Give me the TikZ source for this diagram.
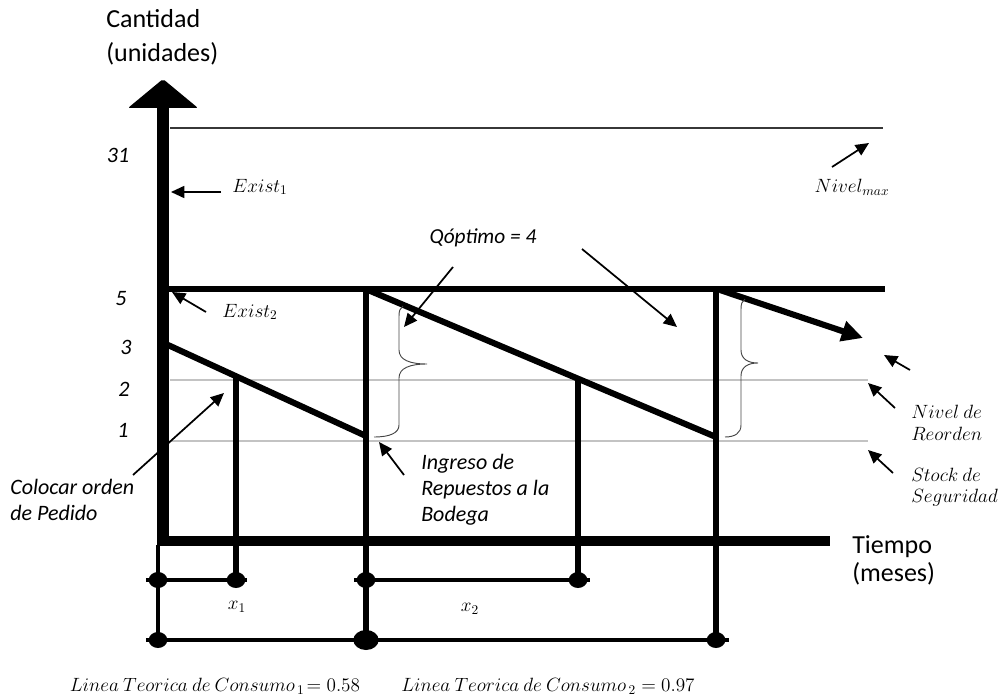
\documentclass[tikz,border=0pt]{standalone}
\usepackage{fontspec}
\setmainfont{Carlito}
\usetikzlibrary{arrows.meta,shapes.geometric}
\begin{document}
\begin{tikzpicture}[x=0.75pt,y=-0.75pt,
  heavy/.style={line width=5.2pt},
  slope/.style={line width=4.6pt},
  medium/.style={line width=4pt},
  dim/.style={line width=2.6pt},
  guide/.style={line width=2pt, draw={rgb,255:red,195;green,195;blue,195}},
  maxline/.style={line width=2.2pt, draw={rgb,255:red,55;green,55;blue,55}},
  pointer/.style={line width=1.3pt, -{Triangle[length=10pt,width=9pt]}},
  bracepath/.style={line width=0.7pt, draw={rgb,255:red,70;green,70;blue,70}},
  dot/.style={fill, ellipse, inner sep=0pt, minimum width=14pt, minimum height=12pt},
  title/.style={font=\fontsize{19.5}{24}\selectfont, inner sep=0pt},
  note/.style={font=\fontsize{16.5}{19}\selectfont\itshape, inner sep=0pt, align=left},
  mnote/.style={font=\fontsize{14}{16}\selectfont, inner sep=0pt, align=left},
]
\useasboundingbox (0,0) rectangle (1003,698);

% key points
\coordinate (O) at (163,541);
\coordinate (Ytop) at (163,106);
\coordinate (Xend) at (830,541);
\coordinate (maxL) at (170,128);
\coordinate (maxR) at (883,128);
\coordinate (topL) at (163,289);
\coordinate (topR) at (885,289);
\coordinate (rpL) at (170,380);
\coordinate (rpR) at (868,380);
\coordinate (ssL) at (170,441);
\coordinate (ssR) at (868,441);
\coordinate (a0) at (168,345);
\coordinate (a1) at (366,436);
\coordinate (b0) at (368,290);
\coordinate (b1) at (716,437);
\coordinate (c0) at (720,290);
\coordinate (c1) at (863,338);
\coordinate (v1t) at (366,287);
\coordinate (v1b) at (366,644);
\coordinate (v2t) at (716,287);
\coordinate (v2b) at (716,644);
\coordinate (r1t) at (236,377);
\coordinate (r1b) at (236,585);
\coordinate (r2t) at (578,380);
\coordinate (r2b) at (578,585);
\coordinate (lvt) at (158,545);
\coordinate (lvb) at (158,646);

% reference levels
\draw[maxline] (maxL) -- (maxR);
\draw[guide] (rpL) -- (rpR);
\draw[guide] (ssL) -- (ssR);

% pointer that runs behind the vertical axis
\coordinate (colS) at (133,475);
\coordinate (colE) at (224,393);
\draw[pointer] (colS) -- (colE);

% axes
\draw[line width=9.5pt] (O) -- (Ytop);
\fill[rounded corners=1.5pt] (163,79) -- (198,108) -- (128,108) -- cycle;
\draw[line width=7.5pt] (157,541) -- (Xend);

% maximum stock line
\draw[slope] (topL) -- (topR);

% sawtooth of stock
\draw[slope] (a0) -- (a1);
\draw[slope] (b0) -- (b1);
\draw[slope, -{Triangle[length=16pt,width=15pt]}] (c0) -- (c1);
\draw[heavy] (v1t) -- (v1b);
\draw[heavy] (v2t) -- (v2b);
\draw[medium] (r1t) -- (r1b);
\draw[medium] (r2t) -- (r2b);
\draw[dim, line width=3.3pt] (lvt) -- (lvb);

% interval dimensions
\coordinate (d1L) at (146,580);
\coordinate (d1R) at (247,580);
\coordinate (d2L) at (354,580);
\coordinate (d2R) at (590,580);
\coordinate (d3L) at (146,640);
\coordinate (d3R) at (729,640);
\draw[dim] (d1L) -- (d1R);
\draw[dim] (d2L) -- (d2R);
\draw[dim] (d3L) -- (d3R);
\node[dot] (p1) at (158,580) {};
\node[dot] (p2) at (236,580) {};
\node[dot] (p3) at (366,580) {};
\node[dot] (p4) at (578,580) {};
\node[dot] (p5) at (158,640) {};
\node[dot, minimum width=19pt, minimum height=15pt] (p6) at (366,640) {};
\node[dot] (p7) at (716,640) {};

% braces for the order quantity
\draw[bracepath] (403,306) .. controls (400,308) and (399,311) .. (399,316)
  -- (399,350) .. controls (399,360) and (410,364) .. (427,364)
  .. controls (410,364) and (399,368) .. (399,378)
  -- (399,425) .. controls (399,433) and (390,437) .. (374,437);
\draw[bracepath] (745,299) .. controls (742,301) and (741,304) .. (741,309)
  -- (741,350) .. controls (741,359) and (748,363) .. (758,363)
  .. controls (748,363) and (741,367) .. (741,376)
  -- (741,425) .. controls (741,433) and (735,437) .. (725,437);

% axis titles
\node[title, anchor=base west] (cant) at (106,28) {Cantidad};
\node[title, anchor=base west] (unid) at (106,62) {(unidades)};
\node[title, anchor=base west] (tiem) at (852,553) {Tiempo};
\node[title, anchor=base west] (mes) at (852,581) {(meses)};

% level values
\node[note] (n31) at (118,155) {31};
\node[note] (n5) at (121,299) {5};
\node[note] (n3) at (126,347) {3};
\node[note] (n2) at (124,389) {2};
\node[note] (n1) at (123,430) {1};

% annotations and their pointers
\node[mnote] (ex1) at (260,187) {$Exist_1$};
\coordinate (ex1a) at (221,192);
\coordinate (ex1b) at (171,192);
\draw[pointer] (ex1a) -- (ex1b);

\node[mnote] (ex2) at (250,312) {$Exist_2$};
\coordinate (ex2a) at (206,312);
\coordinate (ex2b) at (172,292);
\draw[pointer] (ex2a) -- (ex2b);

\node[mnote] (nmax) at (852,187) {$Nivel_{max}$};
\coordinate (nmaxa) at (832,167);
\coordinate (nmaxb) at (869,143);
\draw[pointer] (nmaxa) -- (nmaxb);

\node[note, font=\fontsize{16}{19}\selectfont\itshape] (qopt) at (483,238) {Qóptimo = 4};
\coordinate (q1a) at (453,267);
\coordinate (q1b) at (404,327);
\coordinate (q2a) at (582,249);
\coordinate (q2b) at (677,327);
\draw[pointer] (q1a) -- (q1b);
\draw[pointer] (q2a) -- (q2b);

\node[note, anchor=west, font=\fontsize{16.5}{19.5}\selectfont\itshape] (ing) at (421,490) {Ingreso de\\Repuestos a la\\Bodega};
\coordinate (inga) at (404,475);
\coordinate (ingb) at (379,442);
\draw[pointer] (inga) -- (ingb);

\node[note, anchor=west, font=\fontsize{16.5}{19}\selectfont\itshape] (col) at (10,500) {Colocar orden\\de Pedido};

\node[mnote, anchor=west, font=\fontsize{14}{16}\selectfont] (reo) at (911,423) {$Nivel\ de$\\$Reorden$};
\node[mnote, anchor=west, font=\fontsize{14}{16}\selectfont] (seg) at (911,487) {$Stock\ de$\\$Seguridad$};
\coordinate (ra) at (910,370);
\coordinate (rb) at (884,355);
\coordinate (sa) at (895,408);
\coordinate (sb) at (868,383);
\coordinate (ta) at (893,473);
\coordinate (tb) at (868,450);
\draw[pointer] (ra) -- (rb);
\draw[pointer] (sa) -- (sb);
\draw[pointer] (ta) -- (tb);

% interval names and consumption lines
\node[mnote] (x1) at (237,607) {$x_1$};
\node[mnote] (x2) at (470,609) {$x_2$};
\node[mnote] (lc1) at (215,686) {$Linea\ Teorica\ de\ Consumo_{\,1}\!= 0.58$};
\node[mnote] (lc2) at (548,686) {$Linea\ Teorica\ de\ Consumo_{\,2} = 0.97$};
\end{tikzpicture}
\end{document}
